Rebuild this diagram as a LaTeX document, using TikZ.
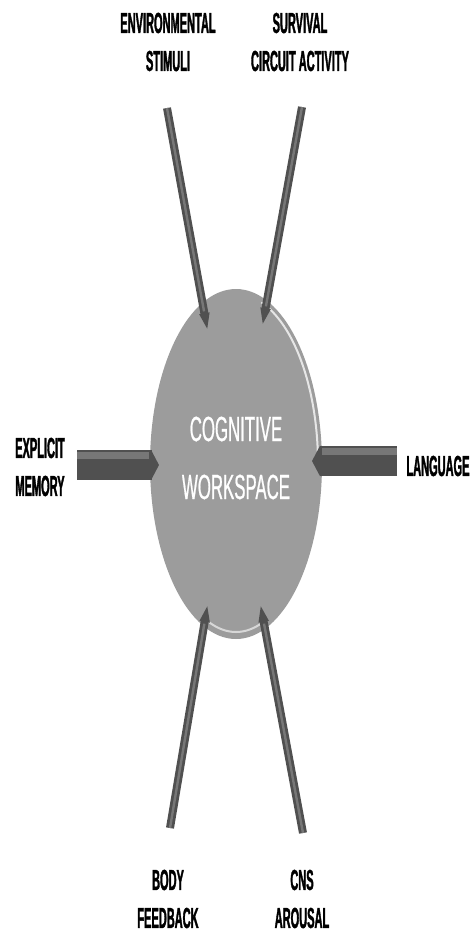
\documentclass[tikz,border=0pt]{standalone}
\usepackage{fontspec}
\newfontfamily\lblfont[FakeStretch=0.38, FakeBold=1.2]{Liberation Sans}
\newfontfamily\wsfont[FakeStretch=0.48, FakeBold=0.6]{Liberation Sans}
\usetikzlibrary{shapes.geometric, arrows.meta, calc}
\definecolor{barDark}{HTML}{505050}
\definecolor{barLight}{HTML}{777777}
\definecolor{wsGray}{HTML}{9C9C9C}

\begin{document}
\begin{tikzpicture}[
    x=0.5pt, y=-0.5pt,
    % Stili dei nodi
    lbl/.style={align=center, inner sep=0pt, font=\lblfont\bfseries\fontsize{14.5}{19}\selectfont},
    work/.style={ellipse, fill=wsGray, minimum width=86pt, minimum height=175pt, inner sep=0pt},
    worklbl/.style={align=center, inner sep=0pt, text=white, font=\wsfont\fontsize{17.5}{29}\selectfont},
    spoke/.style={draw=barDark, line width=4pt, -{Triangle[length=10pt, width=4.2pt]}},
    spokehi/.style={draw=barLight, line width=1.2pt, shorten >=11pt},
    bar/.style={draw=barDark, line width=15pt, -{Triangle[length=4pt, width=15pt]}},
    barhi/.style={draw=barLight, line width=3.5pt, shorten >=5pt, transform canvas={yshift=5pt}},
    rim/.style={draw=white, line width=1pt, opacity=0.75}
]
    \useasboundingbox (0,0) rectangle (470,934);

    % ==================== WORKSPACE CENTRALE ====================
    \node [work] (ws) at (236,464) {};
    \draw [rim] ($(ws.center)+(72:41pt and 85pt)$) arc[start angle=72, end angle=2, x radius=41pt, y radius=85pt];
    \draw [rim, opacity=0.6] ($(ws.center)+(250:40pt and 84pt)$) arc[start angle=250, end angle=290, x radius=40pt, y radius=84pt];
    \node [worklbl] (wslbl) at (236,458) {COGNITIVE\\WORKSPACE};

    % ==================== ETICHETTE ====================
    \node [lbl] (envlbl) at (168,42) {ENVIRONMENTAL\\STIMULI};
    \node [lbl] (survlbl) at (300,42) {SURVIVAL\\CIRCUIT ACTIVITY};
    \node [lbl] (explbl) at (40,467) {EXPLICIT\\MEMORY};
    \node [lbl] (langlbl) at (438,466) {LANGUAGE};
    \node [lbl] (bodylbl) at (168,899) {BODY\\FEEDBACK};
    \node [lbl] (cnslbl) at (302,899) {CNS\\AROUSAL};

    % Estremi delle frecce
    \coordinate (envtail) at (167,108);  \coordinate (envtip) at (208,333);
    \coordinate (survtail) at (302,107); \coordinate (survtip) at (262,328);
    \coordinate (bodytail) at (170,828); \coordinate (bodytip) at (208,602);
    \coordinate (cnstail) at (303,833);  \coordinate (cnstip) at (260,602);
    \coordinate (exptail) at (77,465);   \coordinate (exptip) at (159,465);
    \coordinate (langtail) at (397,461); \coordinate (langtip) at (312,461);

    % ==================== FRECCE ====================
    \draw [spoke] (envtail) -- (envtip);
    \draw [spoke] (survtail) -- (survtip);
    \draw [spoke] (bodytail) -- (bodytip);
    \draw [spoke] (cnstail) -- (cnstip);
    \draw [spokehi] (envtail) -- (envtip);
    \draw [spokehi] (survtail) -- (survtip);
    \draw [spokehi] (bodytail) -- (bodytip);
    \draw [spokehi] (cnstail) -- (cnstip);

    \draw [bar] (exptail) -- (exptip);
    \draw [bar] (langtail) -- (langtip);
    \draw [barhi] (exptail) -- (exptip);
    \draw [barhi] (langtail) -- (langtip);

\end{tikzpicture}
\end{document}
